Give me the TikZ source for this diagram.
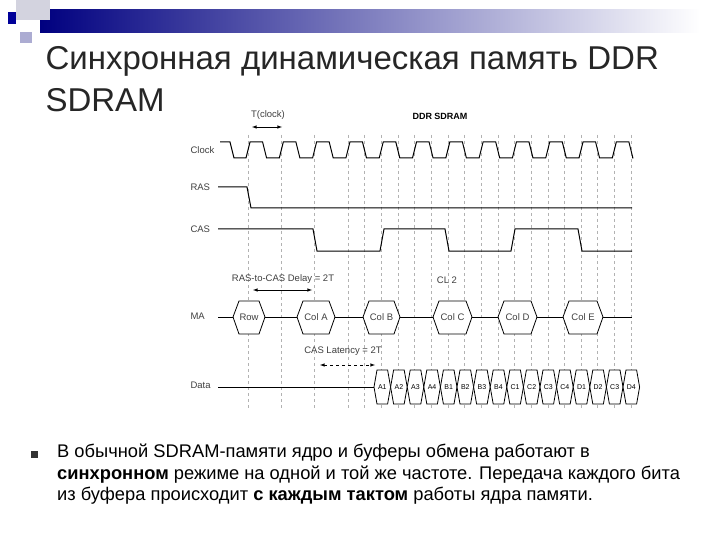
\documentclass[tikz,border=0pt]{standalone}
\usepackage{fontspec}
\setmainfont{Liberation Sans}
\begin{document}
\begin{tikzpicture}[x=1pt,y=-1pt,
  sig/.style={line width=1pt},
  grid/.style={gray!60,dashed,line width=0.3pt},
  lbl/.style={font=\fontsize{9.5}{10}\selectfont,text=black!75},
  hex/.style={line width=0.8pt,fill=white},
  cell/.style={font=\fontsize{7}{7}\selectfont},
  dim/.style={<->,>=latex,line width=0.6pt}]
\useasboundingbox (0,0) rectangle (720,540);
\fill[white] (0,0) rectangle (720,540);
% decoration
\shade[left color=blue!50!black,right color=white] (40,10) rectangle (700,33);
\fill[blue!15!gray!30] (16,0) rectangle (50,20);
\fill[blue!30!gray!50] (20,32) rectangle (32,43);
\fill[blue!60!black] (8,12) rectangle (16,24);
% title
\node[anchor=west,font=\fontsize{33}{36}\selectfont,text=black!85] (t1) at (42,61) {Синхронная динамическая память DDR};
\node[anchor=west,font=\fontsize{33}{36}\selectfont,text=black!85] (t2) at (42,100) {SDRAM};
% grid
\foreach \k in {0,...,11} \draw[grid] ({248+\k*33.3},135) -- ({248+\k*33.3},410);
\foreach \k in {3,...,11} \draw[grid] ({264.6+\k*33.3},135) -- ({264.6+\k*33.3},410);
% labels
\node[lbl,anchor=west] (lclk) at (187,150) {Clock};
\node[lbl,anchor=west] (lras) at (187,187) {RAS};
\node[lbl,anchor=west] (lcas) at (187,229) {CAS};
\node[lbl,anchor=west] (lma) at (187,316) {MA};
\node[lbl,anchor=west] (ldata) at (187,385) {Data};
\node[lbl] (tclk) at (268,115) {T(clock)};
\node[font=\bfseries\fontsize{9}{9}\selectfont] (ddr) at (440,116) {DDR SDRAM};
\coordinate (ta) at (252,127); \coordinate (tb) at (282,127);
\draw[dim] (ta) -- (tb);
% clock
\draw[sig] (220,142) -- (230,142) -- (234,158) -- (246,158)
  \foreach \k in {0,...,11} { -- ({246+\k*33.3},158) -- ({250+\k*33.3},142) -- ({262.6+\k*33.3},142) -- ({266.6+\k*33.3},158) } -- (632,158);
% RAS
\draw[sig] (218,187) -- (247,187) -- (251,208) -- (632,208);
% CAS
\draw[sig] (218,229) -- (313,229) -- (317,251) -- (380,251) -- (384,229) -- (445,229) -- (449,251) -- (511,251) -- (515,229) -- (578,229) -- (582,251) -- (632,251);
% MA
\draw[sig] (218,317) -- (632,317);
\foreach \a/\b/\t/\n in {233/265/Row/hr,297/335/Col A/ha,363/400/Col B/hb,433/472/Col C/hc,498/537/Col D/hd,563/603/Col E/he}{
  \draw[hex] (\a,317) -- (\a+6,301) -- (\b-6,301) -- (\b,317) -- (\b-6,334) -- (\a+6,334) -- cycle;
  \node[lbl] (\n) at ({(\a+\b)/2},317.5) {\t};
}
\node[lbl] (rcd) at (283,279) {RAS-to-CAS Delay = 2T};
\coordinate (ra) at (253,290); \coordinate (rb) at (312,290);
\draw[dim] (ra) -- (rb);
\node[lbl] (cl) at (447,280) {CL 2};
\node[lbl] (casl) at (343,351) {CAS Latency = 2T};
\coordinate (ca) at (320,365); \coordinate (cb) at (375,365);
\draw[dim,dashed] (ca) -- (cb);
% Data
\draw[sig] (218,387) -- (374,387);
\foreach \t [count=\i from 0] in {A1,A2,A3,A4,B1,B2,B3,B4,C1,C2,C3,C4,D1,D2,C3,D4}{
  \pgfmathsetmacro\xa{374+\i*16.6}\pgfmathsetmacro\xb{\xa+16.6}
  \draw[line width=0.8pt,fill=white] (\xa,387) -- (\xa+3,370) -- (\xb-3,370) -- (\xb,387) -- (\xb-3,404) -- (\xa+3,404) -- cycle;
  \node[cell] (d\i) at ({\xa+8.3},387) {\t};
}
% bullet text
\fill[black!80] (31,451) rectangle (38,458);
\node[anchor=north west,align=left,font=\fontsize{18.3}{21.5}\selectfont,inner sep=0] (body) at (57,444)
{В обычной SDRAM-памяти ядро и буферы обмена работают в\\
\textbf{синхронном} режиме на одной и той же частоте. Передача каждого бита\\
из буфера происходит \textbf{с каждым тактом} работы ядра памяти.};
\end{tikzpicture}
\end{document}
